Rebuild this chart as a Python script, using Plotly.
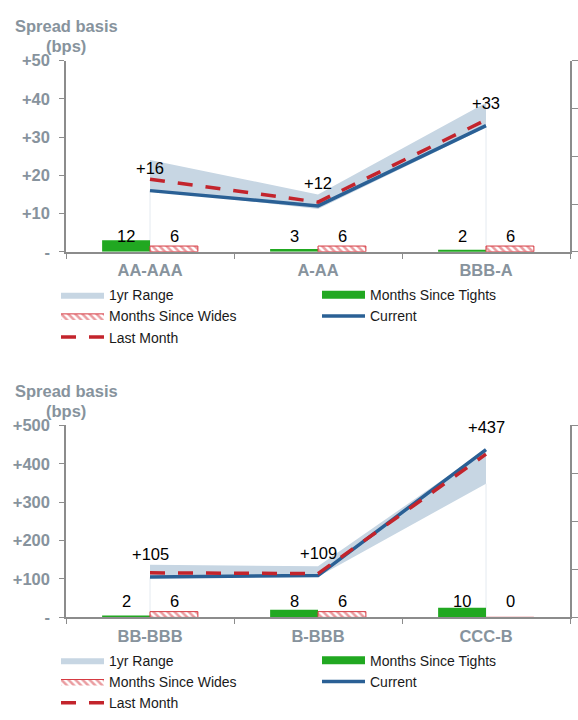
import plotly.graph_objects as go

# ---- data -------------------------------------------------------------
top_cats = ["AA-AAA", "A-AA", "BBB-A"]
top_current = [16, 12, 33]
top_last_month = [19, 13, 34.5]
top_range_low = [16.2, 11.2, 32.5]
top_range_high = [24, 15, 39]
top_months_tights = [12, 3, 2]
top_months_wides = [6, 6, 6]

bot_cats = ["BB-BBB", "B-BBB", "CCC-B"]
bot_current = [105, 109, 437]
bot_last_month = [116, 114, 425]
bot_range_low = [104, 106, 348]
bot_range_high = [137, 133, 437]
bot_months_tights = [2, 8, 10]
bot_months_wides = [6, 6, 0]

top_ticks = [0, 10, 20, 30, 40, 50]
top_tick_text = ["-", "+10", "+20", "+30", "+40", "+50"]
bot_ticks = [0, 100, 200, 300, 400, 500]
bot_tick_text = ["-", "+100", "+200", "+300", "+400", "+500"]

# ---- styling ----------------------------------------------------------
W, H = 578, 720
FONT = "Arial, Liberation Sans, sans-serif"
GREY_TXT = "#87939d"
AXIS_GREY = "#8c8c8c"
BAND = "#c7d6e3"
BLUE = "#2a6095"
RED = "#c3242c"
GREEN = "#21a821"
HATCH = "#d63a42"
LBL = 16.5

X_DOMAIN = [66 / W, 570 / W]
TOP_DOMAIN = [1 - 249 / H, 1 - 53 / H]
BOT_DOMAIN = [1 - 624 / H, 1 - 427 / H]

fig = go.Figure()


def add_panel(cats, current, last, lo, hi, tights, wides, xa, ya, ya2, legend):
    # 1yr range band: lower edge then filled upper edge
    fig.add_trace(go.Scatter(x=cats, y=lo, mode="lines", line=dict(width=0, color=BAND),
                             xaxis=xa, yaxis=ya, showlegend=False, hoverinfo="skip",
                             legend=legend))
    fig.add_trace(go.Scatter(x=cats, y=hi, mode="lines", line=dict(width=0, color=BAND),
                             fill="tonexty", fillcolor=BAND, name="1yr Range",
                             xaxis=xa, yaxis=ya, legend=legend))
    # faint drop lines at the outer categories
    for i in (0, len(cats) - 1):
        fig.add_trace(go.Scatter(x=[cats[i], cats[i]], y=[0, lo[i]], mode="lines",
                                 line=dict(width=1, color="#e4eaf0"), xaxis=xa, yaxis=ya,
                                 showlegend=False, hoverinfo="skip", legend=legend))
    # legend swatches for the bar series (wide rectangles)
    fig.add_trace(go.Scatter(x=[None], y=[None], mode="lines", name="Months Since Tights",
                             line=dict(color=GREEN, width=8), xaxis=xa, yaxis=ya,
                             legend=legend))
    fig.add_trace(go.Scatter(x=[None, None, None], y=[None, None, None], mode="lines",
                             fill="toself", fillcolor="white", name="Months Since Wides",
                             line=dict(color=HATCH, width=1),
                             fillpattern=dict(shape="\\", fgcolor=HATCH, bgcolor="white",
                                              size=5, solidity=0.5),
                             xaxis=xa, yaxis=ya, legend=legend))
    fig.add_trace(go.Bar(x=cats, y=tights, name="Months Since Tights", showlegend=False,
                         marker=dict(color=GREEN, line=dict(width=0)),
                         xaxis=xa, yaxis=ya2, legend=legend))
    fig.add_trace(go.Bar(x=cats, y=wides, name="Months Since Wides", showlegend=False,
                         marker=dict(color="white",
                                     line=dict(width=1, color=HATCH),
                                     pattern=dict(shape="\\", fgcolor=HATCH,
                                                  bgcolor="white", size=5,
                                                  solidity=0.5)),
                         xaxis=xa, yaxis=ya2, legend=legend))
    fig.add_trace(go.Scatter(x=cats, y=current, mode="lines", name="Current",
                             line=dict(color=BLUE, width=3.5),
                             xaxis=xa, yaxis=ya, legend=legend))
    fig.add_trace(go.Scatter(x=cats, y=last, mode="lines", name="Last Month",
                             line=dict(color=RED, width=3.5, dash="15px,13px"),
                             xaxis=xa, yaxis=ya, legend=legend))

    # value labels
    for c, v in zip(cats, current):
        fig.add_annotation(x=c, y=v, xref=xa, yref=ya, text=f"+{v:g}", showarrow=False,
                           yshift=23, font=dict(family=FONT, size=LBL, color="black"))
    for c, t, w in zip(cats, tights, wides):
        fig.add_annotation(x=c, y=17, xref=xa, yref=ya2, text=f"{t}", showarrow=False,
                           xshift=-24, font=dict(family=FONT, size=LBL, color="black"))
        fig.add_annotation(x=c, y=17, xref=xa, yref=ya2, text=f"{w}", showarrow=False,
                           xshift=24, font=dict(family=FONT, size=LBL, color="black"))


add_panel(top_cats, top_current, top_last_month, top_range_low, top_range_high,
          top_months_tights, top_months_wides, "x", "y", "y2", "legend")
add_panel(bot_cats, bot_current, bot_last_month, bot_range_low, bot_range_high,
          bot_months_tights, bot_months_wides, "x2", "y3", "y4", "legend2")

xaxis_style = dict(domain=X_DOMAIN, showline=True, linecolor=AXIS_GREY, linewidth=1.5,
                   ticks="outside", tickson="boundaries", ticklen=5, tickcolor=AXIS_GREY,
                   tickfont=dict(family=FONT, size=LBL, color=GREY_TXT, weight="bold"),
                   showgrid=False, zeroline=False, fixedrange=True, ticklabelstandoff=3)
yaxis_style = dict(showline=True, linecolor=AXIS_GREY, linewidth=1.5, ticks="outside",
                   ticklen=5, tickcolor=AXIS_GREY, showgrid=False, zeroline=False,
                   tickfont=dict(family=FONT, size=LBL, color=GREY_TXT, weight="bold"),
                   ticklabelstandoff=6)
y2_style = dict(side="right", range=[0, 200], tickvals=[0, 50, 100, 150, 200],
                showticklabels=False, showline=True, linecolor=AXIS_GREY, linewidth=1.5,
                ticks="outside", ticklen=6, tickcolor=AXIS_GREY, showgrid=False,
                zeroline=False)

legend_style = dict(orientation="h", x=60 / W, xanchor="left", yanchor="top",
                    entrywidth=203, entrywidthmode="pixels", bgcolor="rgba(0,0,0,0)",
                    font=dict(family=FONT, size=14, color="#1a1a1a"),
                    traceorder="normal", itemwidth=43)

fig.update_layout(
    width=W, height=H,
    margin=dict(l=0, r=0, t=0, b=0),
    paper_bgcolor="white", plot_bgcolor="white",
    barmode="group", bargap=0.43, bargroupgap=0,
    font=dict(family=FONT, size=14, color="#1a1a1a"),
    xaxis=dict(anchor="y", **xaxis_style),
    xaxis2=dict(anchor="y3", **xaxis_style),
    yaxis=dict(domain=TOP_DOMAIN, anchor="x", range=[0, 50], tickvals=top_ticks,
               ticktext=top_tick_text, **yaxis_style),
    yaxis2=dict(overlaying="y", anchor="x", **y2_style),
    yaxis3=dict(domain=BOT_DOMAIN, anchor="x2", range=[0, 500], tickvals=bot_ticks,
                ticktext=bot_tick_text, **yaxis_style),
    yaxis4=dict(overlaying="y3", anchor="x2", **y2_style),
    legend=dict(y=1 - 277 / H, **legend_style),
    legend2=dict(y=1 - 652 / H, **legend_style),
    showlegend=True,
)

# axis titles above the left axes
for y1, y2 in ((17, 38), (392, 412)):
    for yy, txt in ((y1, "Spread basis"), (y2, "(bps)")):
        fig.add_annotation(x=66 / W, y=1 - yy / H, xref="paper", yref="paper",
                           xanchor="center", yanchor="middle", showarrow=False, text=txt,
                           font=dict(family=FONT, size=LBL, color=GREY_TXT, weight="bold"))

fig.write_html("out.html")
